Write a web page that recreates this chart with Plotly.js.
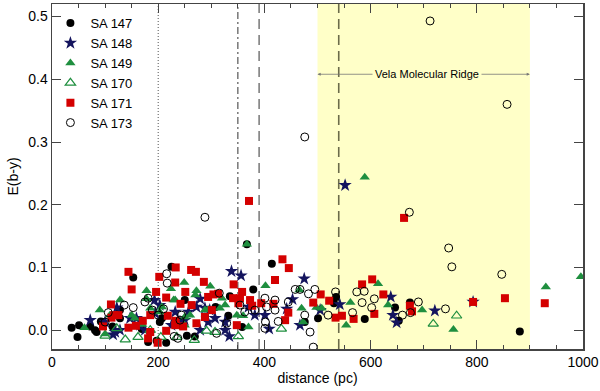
<!DOCTYPE html>
<html>
<head>
<meta charset="utf-8">
<script src="https://cdn.plot.ly/plotly-3.0.1.min.js"></script>
<style>
  body { margin: 0; background: #fff; }
  #plot { width: 600px; height: 391px; }
</style>
</head>
<body>
<div id="plot"></div>
<script>
// distance (pc) vs E(b-y) for each field

let x147 = [37, 48, 51, 72, 81, 92, 114, 153, 225, 169, 181, 197, 215, 254, 269, 379, 308, 332, 358,
    414, 535, 476, 589, 646, 674, 653, 881, 367, 288, 128, 203, 335, 501, 531, 250,
    84, 241, 128, 207];
let y147 = [0.004, -0.011, 0.008, 0.006, 0.000, 0.014, 0.006, 0.084, 0.101, 0.002, -0.019, -0.017, -0.020,
    -0.009, -0.010, 0.065, 0.037, 0.023, 0.005, 0.106, 0.053, 0.013, 0.018, 0.036, 0.044, 0.015, -0.002,
    0.137, 0.022, 0.032, 0.013, 0.054, 0.019, 0.043, 0.048,
    -0.003, 0.008, 0.019, 0.019];

let x148 = [122, 193, 115, 338, 356, 334, 409, 442, 453, 475, 370, 382, 279, 638, 642, 649, 542, 721, 552,
    793, 401, 72, 147, 166, 232, 250, 279, 307, 100, 203, 241, 297, 326, 467, 505, 128, 175,
    119, 159, 225, 194, 257, 288, 294, 326, 272];
let y148 = [0.036, 0.048, -0.007, 0.094, 0.087, -0.010, 0.002, 0.034, 0.049, 0.082, 0.037, 0.024, 0.050,
    0.053, 0.024, 0.012, 0.041, 0.031, 0.231, 0.045, 0.024, 0.016, 0.019, 0.008, 0.029, 0.016, 0.000,
    0.019, 0.013, 0.040, 0.013, 0.032, 0.000, 0.008, 0.032, 0.000, 0.000,
    -0.003, 0.019, 0.008, 0.027, 0.029, 0.035, 0.013, 0.013, 0.037];

let x149 = [61, 100, 178, 224, 249, 272, 298, 402, 466, 320, 348, 370, 470, 473, 498, 508, 562, 614, 633,
    554, 697, 756, 589, 930, 996, 367, 178, 170, 128, 156, 203, 232, 260, 288, 326, 109, 185, 250, 90,
    229, 250, 270, 150, 207, 294, 316, 360];
let y149 = [0.004, -0.006, 0.063, 0.066, 0.076, 0.063, 0.070, 0.071, 0.064, 0.051, 0.024, 0.005, 0.035,
    0.013, 0.036, 0.035, 0.044, 0.074, 0.040, 0.008, 0.032, 0.001, 0.244, 0.069, 0.085, 0.137, 0.050,
    0.009, 0.048, 0.019, 0.029, 0.048, 0.024, 0.032, 0.040, 0.024, 0.035, 0.008, 0.032,
    0.048, 0.021, 0.056, 0.024, 0.037, 0.033, 0.035, 0.023];

let x170 = [100, 138, 162, 205, 235, 268, 291, 351, 432, 718, 762, 122, 185, 307];
let y170 = [-0.009, -0.015, -0.011, -0.011, -0.011, -0.016, -0.001, -0.010, 0.002, 0.010, 0.023, 0.003,
    0.000, -0.003];

let x171 = [144, 150, 111, 202, 233, 262, 271, 251, 215, 196, 232, 242, 263, 185, 218, 233, 144, 112, 96,
    158, 247, 215, 181, 171, 125, 371, 434, 446, 420, 286, 342, 358, 288, 313, 294, 301, 272, 341, 354,
    373, 348, 394, 439, 445, 506, 492, 522, 584, 603, 624, 607, 568, 546, 534, 674, 678, 793, 853, 928, 663,
    199, 185, 117, 232, 304, 351, 377, 417];
let y171 = [0.093, 0.065, 0.041, 0.085, 0.100, 0.096, 0.093, 0.061, 0.052, 0.061, 0.076, 0.042, 0.040,
    0.024, 0.023, 0.015, 0.004, 0.020, 0.006, 0.007, 0.006, -0.001, -0.013, 0.015, 0.024, 0.206, 0.113,
    0.099, 0.080, 0.077, 0.073, 0.061, 0.021, 0.058, 0.053, 0.032, 0.011, 0.051, 0.051, 0.048, 0.008,
    0.043, 0.016, 0.028, 0.057, 0.044, 0.047, 0.073, 0.081, 0.057, 0.026, 0.018, 0.023, 0.020, 0.039,
    0.030, 0.045, 0.051, 0.043, 0.179,
    -0.020, -0.003, 0.024, 0.008, 0.057, 0.043, 0.039, 0.042];

let x173 = [106, 136, 153, 175, 216, 237, 217, 181, 189, 230, 315, 401, 420, 458, 404, 402, 426, 401, 310,
    329, 467, 483, 495, 534, 574, 588, 607, 584, 602, 566, 520, 476, 486, 492, 690, 741, 675, 660, 747,
    753, 847, 857, 712, 476, 288, 673, 354, 363, 241,
    210, 200, 244, 100, 420, 382, 445];
let y173 = [0.028, 0.040, 0.036, 0.045, 0.090, -0.013, 0.075, 0.051, 0.032, -0.010, 0.059, 0.051, 0.048,
    0.065, 0.037, 0.013, 0.014, 0.003, -0.005, 0.011, 0.065, 0.058, 0.065, 0.061, 0.061, 0.062, 0.050,
    0.044, 0.036, 0.028, 0.024, 0.024, -0.003, -0.027, 0.045, 0.034, 0.028, 0.024, 0.131, 0.101, 0.089,
    0.360, 0.493, 0.308, 0.180, 0.188, 0.040, 0.029, 0.016,
    0.034, 0.024, 0.024, 0.013, 0.032, 0.032, 0.045];

let greenCol = '#1f8f3f';
let redCol = '#d40000';
let navyCol = '#14145e';

let traces = [
    { x: x147, y: y147, name: 'SA 147', mode: 'markers', type: 'scatter',
      marker: { symbol: 'circle', size: 8, color: '#000' } },
    { x: x148, y: y148, name: 'SA 148', mode: 'markers', type: 'scatter',
      marker: { symbol: 'star', size: 10, color: navyCol } },
    { x: x149, y: y149, name: 'SA 149', mode: 'markers', type: 'scatter',
      marker: { symbol: 'triangle-up', size: 9, color: greenCol } },
    { x: x170, y: y170, name: 'SA 170', mode: 'markers', type: 'scatter',
      marker: { symbol: 'triangle-up-open', size: 9, color: greenCol, line: { width: 1.2 } } },
    { x: x171, y: y171, name: 'SA 171', mode: 'markers', type: 'scatter',
      marker: { symbol: 'square', size: 8, color: redCol } },
    { x: x173, y: y173, name: 'SA 173', mode: 'markers', type: 'scatter',
      marker: { symbol: 'circle-open', size: 8, color: '#000', line: { width: 1 } } }
];

function vline(x, dash, color, width) {
    return { type: 'line', xref: 'x', yref: 'paper', x0: x, x1: x, y0: 0, y1: 1,
             layer: 'below', line: { color: color, width: width, dash: dash } };
}

let layout = {
    width: 600,
    height: 391,
    margin: { l: 52, r: 17, t: 4, b: 42 },
    paper_bgcolor: '#fff',
    plot_bgcolor: '#fff',
    font: { family: 'Liberation Sans, Arial, sans-serif', color: '#000' },
    showlegend: true,
    legend: {
        x: -0.003, y: 0.988, xanchor: 'left', yanchor: 'top',
        bgcolor: 'rgba(0,0,0,0)', font: { size: 13 },
        itemwidth: 30, tracegroupgap: 0
    },
    xaxis: {
        range: [0, 1000],
        tickvals: [0, 200, 400, 600, 800, 1000],
        ticks: 'inside', ticklen: 9, tickcolor: '#444',
        minor: { dtick: 50, ticks: 'inside', ticklen: 4, tickcolor: '#444' },
        showline: true, linecolor: '#444', linewidth: 1.5, mirror: 'allticks',
        showgrid: false, zeroline: false,
        tickfont: { size: 14 },
        title: { text: 'distance (pc)', font: { size: 14 }, standoff: 4 }
    },
    yaxis: {
        range: [-0.03, 0.52],
        tickvals: [0, 0.1, 0.2, 0.3, 0.4, 0.5],
        tickformat: '.1f',
        ticks: 'inside', ticklen: 9, tickcolor: '#444',
        showline: true, linecolor: '#444', linewidth: 1.5, mirror: 'allticks',
        showgrid: false, zeroline: false,
        tickfont: { size: 14 },
        title: { text: 'E(b-y)', font: { size: 14 }, standoff: 6 }
    },
    shapes: [
        { type: 'rect', xref: 'x', yref: 'paper', x0: 500, x1: 900, y0: 0, y1: 1,
          layer: 'below', fillcolor: '#ffffc8', line: { width: 0 } },
        vline(200, '1px,2px', '#555', 1),
        vline(350, '7px,3px,2px,3px', '#555', 1.2),
        vline(390, '10px,6px', '#555', 1.2),
        vline(540, '10px,6px', '#6b6b4a', 1.6)
    ],
    annotations: [
        { x: 500, y: 0.408, ax: 706, ay: 0.408, axref: 'x', ayref: 'y', xref: 'x', yref: 'y',
          showarrow: true, arrowhead: 2, arrowsize: 0.8, arrowwidth: 0.8, arrowcolor: '#777', text: '' },
        { x: 900, y: 0.408, ax: 706, ay: 0.408, axref: 'x', ayref: 'y', xref: 'x', yref: 'y',
          showarrow: true, arrowhead: 2, arrowsize: 0.8, arrowwidth: 0.8, arrowcolor: '#777', text: '' },
        { x: 706, y: 0.408, xref: 'x', yref: 'y', showarrow: false, text: 'Vela Molecular Ridge',
          font: { size: 11, color: '#000' }, bgcolor: '#ffffc8', borderpad: 2 }
    ]
};

Plotly.newPlot('plot', traces, layout, { displayModeBar: false, staticPlot: true });
</script>
</body>
</html>
